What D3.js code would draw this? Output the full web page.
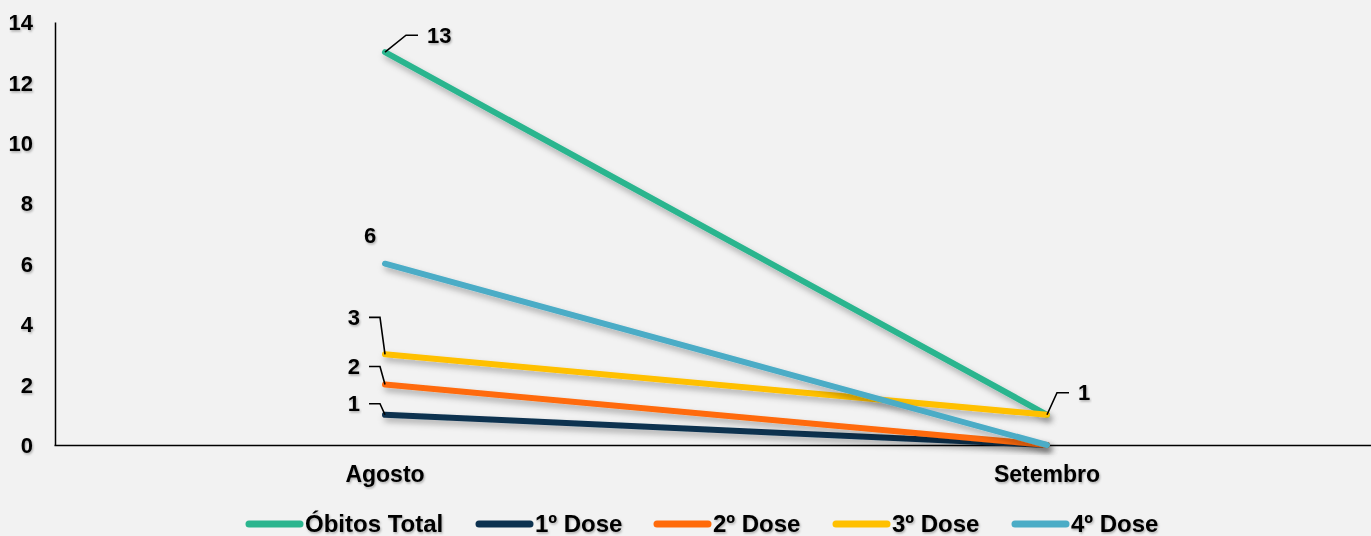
<!DOCTYPE html>
<html>
<head>
<meta charset="utf-8">
<script src="https://cdn.jsdelivr.net/npm/d3@7"></script>
<style>
    body { margin: 0; background: #f2f2f2; overflow: hidden; }
    svg { display: block; font-family: "Liberation Sans", Arial, sans-serif; font-weight: bold; }
</style>
</head>
<body>
<div id="chart"></div>
<script>
// Chart data
const months = ["Agosto", "Setembro"];
const seriesNames = ["Óbitos Total", "1º Dose", "2º Dose", "3º Dose", "4º Dose"];
const seriesColors = ["#2bb58e", "#0c3250", "#ff6a0a", "#ffc000", "#4bacc6"];
const obitosTotal = [13, 1];
const dose1 = [1, 0];
const dose2 = [2, 0];
const dose3 = [3, 1];
const dose4 = [6, 0];
const yTicks = [0, 2, 4, 6, 8, 10, 12, 14];

const seriesValues = [obitosTotal, dose1, dose2, dose3, dose4];

const width = 1371, height = 536;
const font = "Liberation Sans, Arial, sans-serif";

const svg = d3.select("#chart")
    .append("svg")
    .attr("width", width)
    .attr("height", height);

svg.append("rect").attr("width", width).attr("height", height).attr("fill", "#f2f2f2");

// Shadow filters
const defs = svg.append("defs");
const shadow = defs.append("filter").attr("id", "shadow")
    .attr("x", "-10%").attr("y", "-10%").attr("width", "130%").attr("height", "140%");
shadow.append("feDropShadow")
    .attr("dx", 2).attr("dy", 4).attr("stdDeviation", 3)
    .attr("flood-color", "#000").attr("flood-opacity", 0.3);

const textShadow = defs.append("filter").attr("id", "textShadow");
textShadow.append("feDropShadow")
    .attr("dx", 1).attr("dy", 1.5).attr("stdDeviation", 1)
    .attr("flood-color", "#000").attr("flood-opacity", 0.3);

const xScale = d3.scaleBand()
    .domain(months)
    .range([54, 1378]);

const yScale = d3.scaleLinear()
    .domain([0, 14])
    .range([445, 22]);

const xPos = m => xScale(m) + xScale.bandwidth() / 2;

// Axes
const yAxis = d3.axisLeft(yScale).tickValues(yTicks).tickSize(0).tickPadding(22);
svg.append("g")
    .attr("transform", "translate(55, 0)")
    .call(yAxis)
    .call(g => g.select(".domain").attr("stroke", "#000").attr("stroke-width", 1.5))
    .call(g => g.selectAll("text")
        .attr("font-size", 22).attr("font-weight", "bold")
        .attr("font-family", font)
        .attr("fill", "#000").attr("dy", "0.35em")
        .attr("filter", "url(#textShadow)"));

const xAxis = d3.axisBottom(xScale).tickSize(0).tickPadding(21);
svg.append("g")
    .attr("transform", `translate(0, ${yScale(0)})`)
    .call(xAxis)
    .call(g => g.select(".domain").attr("stroke", "#000").attr("stroke-width", 1.5))
    .call(g => g.selectAll("text")
        .attr("font-size", 23).attr("font-weight", "bold")
        .attr("font-family", font)
        .attr("fill", "#000")
        .attr("filter", "url(#textShadow)"));

// Lines
const line = d3.line()
    .x((d, i) => xPos(months[i]))
    .y(d => yScale(d));

seriesValues.forEach((vals, i) => {
    svg.append("path")
        .datum(vals)
        .attr("d", line)
        .attr("fill", "none")
        .attr("stroke", seriesColors[i])
        .attr("stroke-width", 6)
        .attr("stroke-linecap", "round")
        .attr("filter", "url(#shadow)");
});

// Data labels: side, label offset from the point, optional leader line
const labels = [
    { s: 0, m: 0, side: "right", bx: 21, dy: -17, leader: true },
    { s: 4, m: 0, side: "above", bx: -15, dy: -28, leader: false },
    { s: 3, m: 0, side: "left", bx: -5, dy: -37, leader: true },
    { s: 2, m: 0, side: "left", bx: -5, dy: -18, leader: true },
    { s: 1, m: 0, side: "left", bx: -5, dy: -11, leader: true },
    { s: 0, m: 1, side: "right", bx: 10, dy: -22, leader: true }
];

labels.forEach(l => {
    const v = seriesValues[l.s][l.m];
    const px = xPos(months[l.m]);
    const py = yScale(v);
    const ly = py + l.dy;
    let lx, anchor;
    if (l.side === "right") {
        const end = px + l.bx + 12;
        if (l.leader) {
            svg.append("path")
                .attr("d", d3.line()([[px, py], [px + l.bx, ly], [end, ly]]))
                .attr("fill", "none").attr("stroke", "#000").attr("stroke-width", 1.6);
        }
        lx = end + 9; anchor = "start";
    } else if (l.side === "left") {
        const end = px + l.bx - 11;
        if (l.leader) {
            svg.append("path")
                .attr("d", d3.line()([[px, py], [px + l.bx, ly], [end, ly]]))
                .attr("fill", "none").attr("stroke", "#000").attr("stroke-width", 1.6);
        }
        lx = end - 9; anchor = "end";
    } else {
        lx = px + l.bx; anchor = "middle";
    }
    svg.append("text")
        .attr("x", lx)
        .attr("y", ly)
        .attr("dy", "0.35em")
        .attr("text-anchor", anchor)
        .attr("font-size", 22)
        .attr("fill", "#000")
        .attr("filter", "url(#textShadow)")
        .text(v);
});

// Legend
const legendX = [246, 476, 654, 833, 1012];
const legend = svg.append("g").attr("transform", "translate(0, 524)");
seriesNames.forEach((name, i) => {
    const g = legend.append("g").attr("transform", `translate(${legendX[i]}, 0)`);
    g.append("line")
        .attr("x1", 3).attr("x2", 54)
        .attr("y1", 0).attr("y2", 0)
        .attr("stroke", seriesColors[i])
        .attr("stroke-width", 7)
        .attr("stroke-linecap", "round");
    g.append("text")
        .attr("x", 59)
        .attr("y", 0)
        .attr("dy", "0.35em")
        .attr("font-size", 24)
        .attr("fill", "#000")
        .attr("filter", "url(#textShadow)")
        .text(name);
});
</script>
</body>
</html>
